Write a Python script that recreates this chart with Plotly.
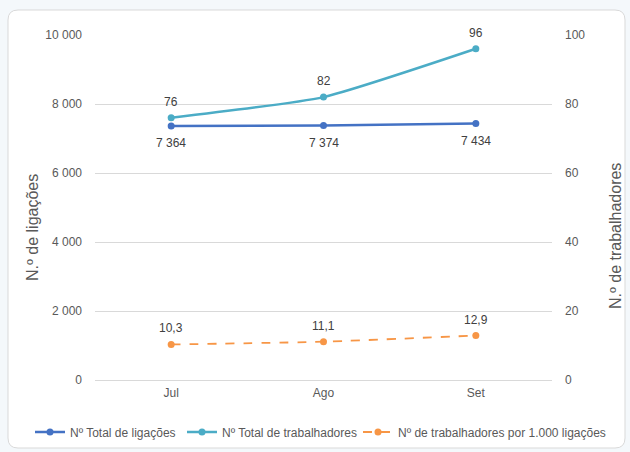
import plotly.graph_objects as go

months = ["Jul", "Ago", "Set"]
ligacoes = [7364, 7374, 7434]
trabalhadores = [76, 82, 96]
por_mil = [10.3, 11.1, 12.9]

left_ticks = [0, 2000, 4000, 6000, 8000, 10000]
right_ticks = [0, 20, 40, 60, 80, 100]

W, H = 630, 452
L, R, T, B = 95, 78, 35, 72
pw, ph = W - L - R, H - T - B


def px(x):
    return (x - L) / pw


def py(y):
    return (H - B - y) / ph


def fmt_int(v):
    return f"{v:,}".replace(",", " ")


def fmt_dec(v):
    return f"{v:.1f}".replace(".", ",")


DARK = "#4472C4"
LIGHT = "#4BACC6"
ORANGE = "#F79646"
SMOOTH = 0.5

fig = go.Figure()

fig.add_trace(go.Scatter(
    x=months, y=ligacoes, name="Nº Total de ligações",
    mode="lines+markers", line=dict(color=DARK, width=2.5, shape="spline", smoothing=SMOOTH),
    marker=dict(size=7, color=DARK), yaxis="y", hoverinfo="skip", legend="legend",
))
fig.add_trace(go.Scatter(
    x=months, y=trabalhadores, name="Nº Total de trabalhadores",
    mode="lines+markers", line=dict(color=LIGHT, width=2.5, shape="spline", smoothing=SMOOTH),
    marker=dict(size=7, color=LIGHT), yaxis="y2", hoverinfo="skip", legend="legend2",
))
fig.add_trace(go.Scatter(
    x=months, y=por_mil, name="Nº de trabalhadores por 1.000 ligações",
    mode="lines+markers", line=dict(color=ORANGE, width=1.8, dash="dash", shape="spline", smoothing=SMOOTH),
    marker=dict(size=7, color=ORANGE), yaxis="y2", hoverinfo="skip", legend="legend3",
))

annotations = []
for m, v in zip(months, ligacoes):
    annotations.append(dict(x=m, y=v, xref="x", yref="y", text=fmt_int(v), showarrow=False,
                            yshift=-17, font=dict(size=12, color="#404040")))
for m, v in zip(months, trabalhadores):
    annotations.append(dict(x=m, y=v, xref="x", yref="y2", text=str(v), showarrow=False,
                            yshift=16, font=dict(size=12, color="#404040")))
for m, v in zip(months, por_mil):
    annotations.append(dict(x=m, y=v, xref="x", yref="y2", text=fmt_dec(v), showarrow=False,
                            yshift=16, font=dict(size=12, color="#404040")))

annotations += [
    dict(text="N.º de ligações", xref="paper", yref="paper", x=px(33), y=py(228),
         xanchor="center", yanchor="middle",
         textangle=-90, showarrow=False, font=dict(size=16, color="#595959")),
    dict(text="N.º de trabalhadores", xref="paper", yref="paper", x=px(615), y=py(236),
         xanchor="center", yanchor="middle",
         textangle=-90, showarrow=False, font=dict(size=16, color="#595959")),
]

# rounded chart box
x0, x1 = px(8), px(625)
y0, y1 = py(448), py(10)
rx, ry = 10 / pw, 10 / ph
path = (f"M {x0+rx},{y0} L {x1-rx},{y0} Q {x1},{y0} {x1},{y0+ry} "
        f"L {x1},{y1-ry} Q {x1},{y1} {x1-rx},{y1} L {x0+rx},{y1} "
        f"Q {x0},{y1} {x0},{y1-ry} L {x0},{y0+ry} Q {x0},{y0} {x0+rx},{y0} Z")

leg_common = dict(orientation="h", yanchor="middle", y=py(432), xanchor="left",
                  font=dict(size=12, color="#595959"), bgcolor="rgba(0,0,0,0)",
                  itemwidth=30)

fig.update_layout(
    width=W, height=H,
    margin=dict(l=L, r=R, t=T, b=B, autoexpand=False),
    paper_bgcolor="#F4F8FB",
    plot_bgcolor="rgba(0,0,0,0)",
    separators=", ",
    font=dict(family="Liberation Sans, Arial, sans-serif", size=12, color="#595959"),
    showlegend=True,
    legend=dict(leg_common, x=px(70 - 40)),
    legend2=dict(leg_common, x=px(222 - 40)),
    legend3=dict(leg_common, x=px(398 - 40)),
    shapes=[dict(type="path", path=path, xref="paper", yref="paper",
                 fillcolor="white", line=dict(color="#D9D9D9", width=1), layer="below")],
    xaxis=dict(type="category", range=[-0.5, 2.5], showgrid=False, zeroline=False,
               showline=False, ticks="", tickfont=dict(size=12, color="#595959"),
               ticklabelstandoff=4, fixedrange=True),
    yaxis=dict(range=[0, 10000], tickvals=left_ticks, tickformat=",d",
               showgrid=True, gridcolor="#D9D9D9", gridwidth=1,
               zeroline=True, zerolinecolor="#D9D9D9", zerolinewidth=1,
               showline=False, ticks="", ticklabelstandoff=12,
               tickfont=dict(size=12, color="#595959")),
    yaxis2=dict(range=[0, 100], tickvals=right_ticks, overlaying="y", side="right",
                showgrid=False, zeroline=False, showline=False, ticks="",
                ticklabelstandoff=12, tickfont=dict(size=12, color="#595959")),
    annotations=annotations,
)

fig.write_html("out.html")
